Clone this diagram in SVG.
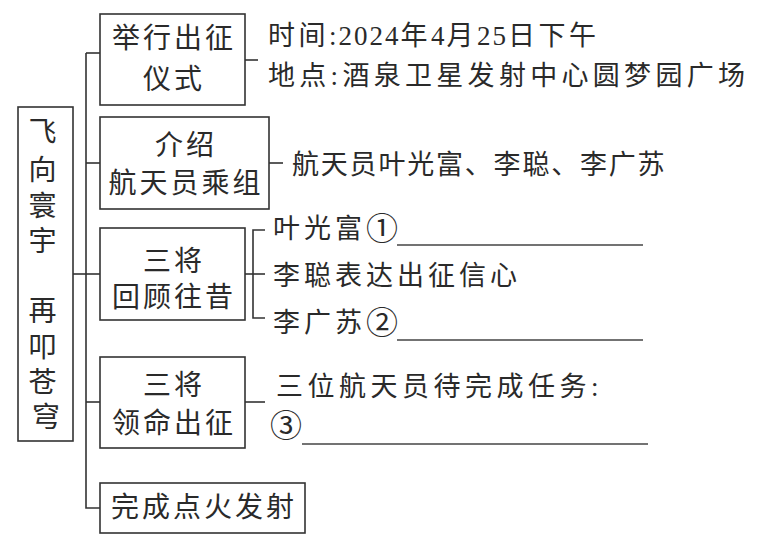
<svg xmlns="http://www.w3.org/2000/svg" width="776" height="540" viewBox="0 0 776 540">
<style>
.box{fill:none;stroke:#333;stroke-width:1.6}
.ln{fill:none;stroke:#333;stroke-width:1.6}
.ul{fill:none;stroke:#444;stroke-width:1.3}
text{font-family:"Liberation Serif","Noto Sans CJK SC",serif;fill:#2a2a2a}
.bt{font-size:28px;letter-spacing:3px;text-anchor:middle}
.rt{font-size:27px;letter-spacing:4px}
.lat{font-family:"Liberation Serif","Times New Roman",serif}
.cn{font-family:"Noto Sans CJK SC",sans-serif;font-size:32px;letter-spacing:0}
</style>
<rect width="776" height="540" fill="#fff"/>
<g id="connectors">
<path class="ln" d="M86 53 V508 H100"/>
<path class="ln" d="M86 53 H100"/>
<path class="ln" d="M73 274 H100"/>
<path class="ln" d="M86 163 H100"/>
<path class="ln" d="M86 402 H100"/>
<path class="ln" d="M245 60 H258"/>
<path class="ln" d="M269 163 H283"/>
<path class="ln" d="M245 274 H265"/>
<path class="ln" d="M265 230 H253 V318 H265"/>
<path class="ln" d="M245 402 H265"/>
</g>
<g id="root">
<rect class="box" x="18" y="107" width="55" height="334"/>
<text style="font-size:28px" text-anchor="middle">
<tspan x="46" y="142">飞</tspan>
<tspan x="46" y="180">向</tspan>
<tspan x="46" y="216">寰</tspan>
<tspan x="46" y="251">宇</tspan>
<tspan x="46" y="321">再</tspan>
<tspan x="46" y="357">叩</tspan>
<tspan x="46" y="392">苍</tspan>
<tspan x="46" y="427">穹</tspan>
</text>
</g>
<g id="node1">
<rect class="box" x="100" y="14" width="145" height="91"/>
<text class="bt" x="174" y="48">举行出征</text>
<text class="bt" x="174" y="89">仪式</text>
</g>
<g id="node2">
<rect class="box" x="100" y="117" width="169" height="92"/>
<text class="bt" x="186" y="155">介绍</text>
<text class="bt" x="186" y="193">航天员乘组</text>
</g>
<g id="node3">
<rect class="box" x="100" y="228" width="145" height="92"/>
<text class="bt" x="174" y="271">三将</text>
<text class="bt" x="174" y="307">回顾往昔</text>
</g>
<g id="node4">
<rect class="box" x="100" y="357" width="145" height="91"/>
<text class="bt" x="174" y="395">三将</text>
<text class="bt" x="174" y="433">领命出征</text>
</g>
<g id="node5">
<rect class="box" x="100" y="483" width="205" height="50"/>
<text class="bt" x="204" y="517">完成点火发射</text>
</g>
<g id="leaf-ceremony">
<text class="rt" x="268" y="45" style="letter-spacing:3.5px">时间<tspan class="lat" style="letter-spacing:2px">:2024</tspan>年<tspan class="lat" style="letter-spacing:2px">4</tspan>月<tspan class="lat" style="letter-spacing:2px">25</tspan>日下午</text>
<text class="rt" x="268" y="85" style="letter-spacing:4.3px">地点<tspan class="lat">:</tspan>酒泉卫星发射中心圆梦园广场</text>
</g>
<g id="leaf-crew">
<text class="rt" x="292" y="174" style="letter-spacing:1.8px">航天员叶光富、李聪、李广苏</text>
</g>
<g id="leaf-review">
<text class="rt" x="273" y="238">叶光富<tspan class="cn" dy="2">①</tspan></text>
<path class="ul" d="M397 245 H643"/>
<text class="rt" x="273" y="285">李聪表达出征信心</text>
<text class="rt" x="273" y="332">李广苏<tspan class="cn" dy="2">②</tspan></text>
<path class="ul" d="M397 340 H643"/>
</g>
<g id="leaf-task">
<text class="rt" x="276" y="396" style="letter-spacing:4.5px">三位航天员待完成任务<tspan class="lat">:</tspan></text>
<text class="cn" x="270" y="437">③</text>
<path class="ul" d="M302 444 H648"/>
</g>
</svg>
